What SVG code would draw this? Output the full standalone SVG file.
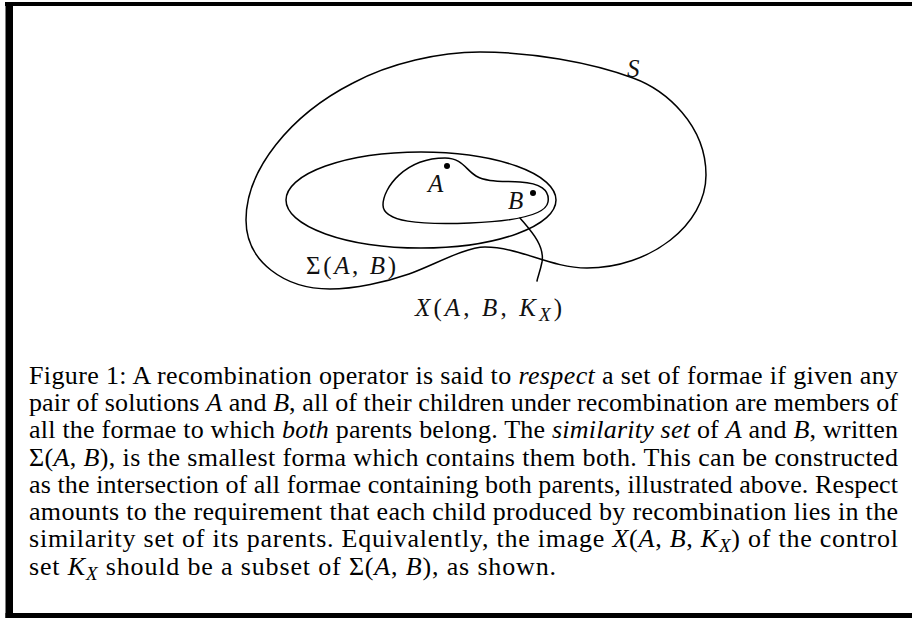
<svg xmlns="http://www.w3.org/2000/svg" width="912" height="618" viewBox="0 0 912 618">
<style>
.curve{fill:none;stroke:#000;stroke-width:1.5;stroke-linejoin:round;stroke-linecap:round}
.math{font-family:"Liberation Serif","Times New Roman",serif;font-size:25px;fill:#111}
.mi{font-style:italic}
.cap{font-family:"Liberation Serif","Times New Roman",serif;font-size:26px;fill:#000}
.it{font-style:italic}
.sub{font-size:19px}
</style>
<rect width="912" height="618" fill="#fff"/>
<g id="frame" fill="#000">
  <rect x="5" y="2" width="907" height="4"/>
  <rect x="5.5" y="2" width="7.5" height="616"/>
  <rect x="5.5" y="613" width="907" height="5"/>
</g>
<g id="set-S">
  <path class="curve" d="M480,52 C530,52 590,62 633,78 C666,90 706,125 706,175 C706,225 650,268 587,268 C550,268 520,247 485,247 C465,247 432,266 409,274 C386,282 355,289 330,289 C285,289 246,262 246,220 C246,170 290,115 353,83 C390,63 440,52 480,52 Z"/>
  <text class="math mi" x="627" y="77">S</text>
</g>
<g id="set-sigma">
  <ellipse class="curve" cx="421" cy="200" rx="135" ry="48"/>
  <text class="math" x="306" y="274" textLength="90" lengthAdjust="spacing">Σ(<tspan class="mi">A</tspan>, <tspan class="mi">B</tspan>)</text>
</g>
<g id="set-X">
  <path class="curve" d="M383,205 C383,188 405,158 445,158 C462,158 466,170 476,176 C486,182 500,181 520,182 C540,183 550,190 548,202 C546,214 520,221 470,223 C420,225 383,222 383,205 Z"/>
  <text class="math" x="415" y="316" textLength="147" lengthAdjust="spacing"><tspan class="mi">X</tspan>(<tspan class="mi">A</tspan>, <tspan class="mi">B</tspan>, <tspan class="mi">K</tspan><tspan class="sub mi" dy="5">X</tspan><tspan dy="-5">)</tspan></text>
</g>
<g id="point-A">
  <circle cx="447" cy="166" r="3" fill="#000"/>
  <text class="math mi" x="428" y="192">A</text>
</g>
<g id="point-B">
  <circle cx="533" cy="193" r="3" fill="#000"/>
  <text class="math mi" x="508" y="209">B</text>
</g>
<g id="connectors">
  <path class="curve" d="M520,218 C530,230 545,245 542,262 C540,272 538,276 537,281"/>
</g>
<g id="caption">
  <text class="cap" x="29" y="384" textLength="869" lengthAdjust="spacing">Figure 1: A recombination operator is said to <tspan class="it">respect</tspan> a set of formae if given any</text>
  <text class="cap" x="29" y="411" textLength="869" lengthAdjust="spacing">pair of solutions <tspan class="it">A</tspan> and <tspan class="it">B</tspan>, all of their children under recombination are members of</text>
  <text class="cap" x="29" y="438" textLength="869" lengthAdjust="spacing">all the formae to which <tspan class="it">both</tspan> parents belong. The <tspan class="it">similarity set</tspan> of <tspan class="it">A</tspan> and <tspan class="it">B</tspan>, written</text>
  <text class="cap" x="29" y="466" textLength="869" lengthAdjust="spacing">Σ(<tspan class="it">A</tspan>, <tspan class="it">B</tspan>), is the smallest forma which contains them both. This can be constructed</text>
  <text class="cap" x="29" y="493" textLength="869" lengthAdjust="spacing">as the intersection of all formae containing both parents, illustrated above. Respect</text>
  <text class="cap" x="29" y="520" textLength="869" lengthAdjust="spacing">amounts to the requirement that each child produced by recombination lies in the</text>
  <text class="cap" x="29" y="547" textLength="869" lengthAdjust="spacing">similarity set of its parents. Equivalently, the image <tspan class="it">X</tspan>(<tspan class="it">A</tspan>, <tspan class="it">B</tspan>, <tspan class="it">K</tspan><tspan class="sub it" dy="5">X</tspan><tspan dy="-5">) of the control</tspan></text>
  <text class="cap" x="29" y="575" textLength="527" lengthAdjust="spacing">set <tspan class="it">K</tspan><tspan class="sub it" dy="5">X</tspan><tspan dy="-5"> should be a subset of Σ(</tspan><tspan class="it">A</tspan>, <tspan class="it">B</tspan>), as shown.</text>
</g>
</svg>
